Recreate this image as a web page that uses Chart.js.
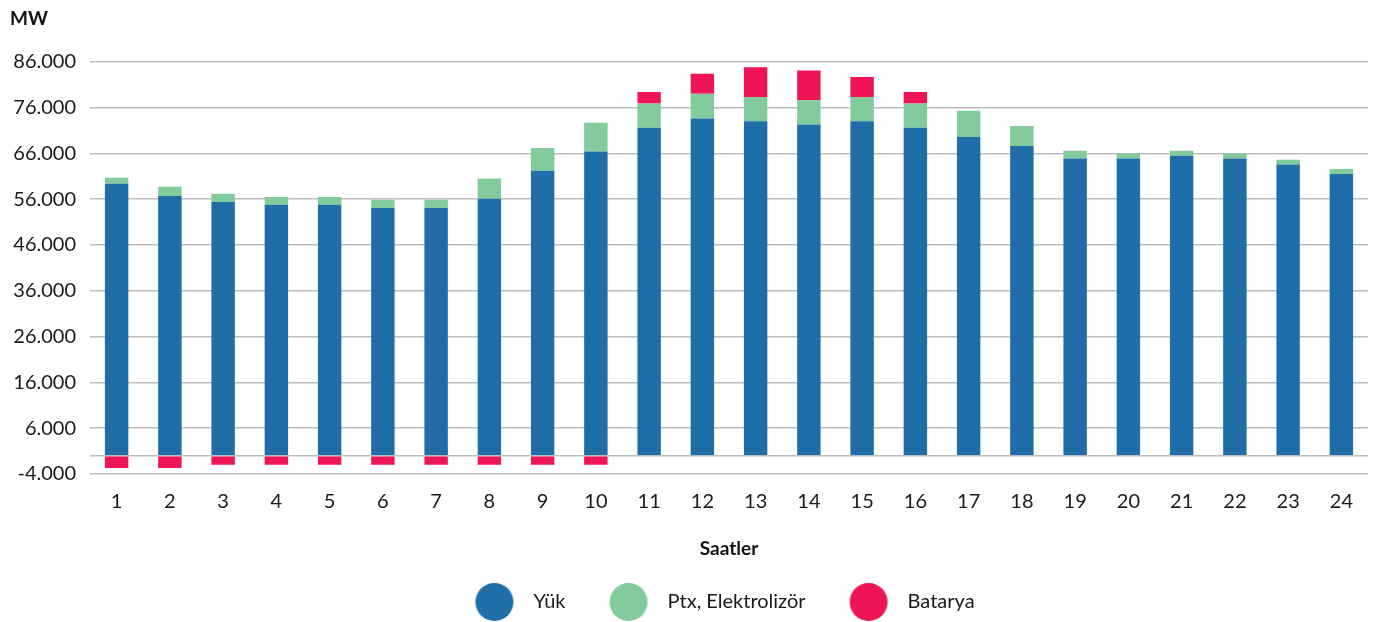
<!DOCTYPE html>
<html lang="tr">
<head>
<meta charset="utf-8">
<title>Saatlik yük</title>
<script src="https://cdn.jsdelivr.net/npm/chart.js@4/dist/chart.umd.min.js"></script>
<style>
  html, body { margin: 0; padding: 0; background: #fff; }
  #wrap { position: relative; width: 1375px; height: 622px; }
</style>
</head>
<body>
<div id="wrap"><canvas id="chart"></canvas></div>
<script>
// Saat başına yük, PtX / elektrolizör ve batarya (MW)
const hours = ['1', '2', '3', '4', '5', '6', '7', '8', '9', '10', '11', '12',
  '13', '14', '15', '16', '17', '18', '19', '20', '21', '22', '23', '24']

const load = [59400, 56700, 55400, 54800, 54800, 54100, 54100, 56100, 62200, 66400, 71600, 73600,
  73000, 72300, 73000, 71600, 69600, 67600, 64900, 64900, 65500, 64900, 63600, 61500]

const ptx = [1300, 2000, 1800, 1700, 1700, 1800, 1800, 4400, 5000, 6300, 5300, 5400,
  5300, 5300, 5300, 5300, 5700, 4400, 1700, 1100, 1100, 1100, 1000, 1100]

const battery = [-2700, -2700, -2000, -2000, -2000, -2000, -2000, -2000, -2000, -2000, 2500, 4400,
  6500, 6500, 4400, 2500, 0, 0, 0, 0, 0, 0, 0, 0]

const yTicks = [-4000, 0, 6000, 16000, 26000, 36000, 46000, 56000, 66000, 76000, 86000]

const colors = {
  load: '#1f6ea7',
  ptx: '#83cb9d',
  battery: '#ee1556',
}

const FONT = 'Lato, "Noto Sans", sans-serif'

// 86.000 / -4.000 style
function fmt(v) {
  const s = String(Math.abs(v)).replace(/\B(?=(\d{3})+(?!\d))/g, '.')
  return v < 0 ? '-' + s : s
}

// big round legend marker; the blank strip on the left is the gap to the previous item
function dot(color) {
  const c = document.createElement('canvas')
  c.width = 82
  c.height = 40
  const ctx = c.getContext('2d')
  ctx.fillStyle = color
  ctx.beginPath()
  ctx.arc(53, 20, 19, 0, Math.PI * 2)
  ctx.fill()
  return c
}

// keep the legend centred under the plot, like the axis title
const legendUnderPlot = {
  id: 'legendUnderPlot',
  afterLayout(chart) {
    chart.legend.left = chart.chartArea.left - 42
    chart.legend.right = chart.chartArea.right
  },
}

const bar = {
  stack: 's',
  categoryPercentage: 1,
  barPercentage: 0.44,
  borderWidth: 0,
}

new Chart(document.getElementById('chart'), {
  type: 'bar',
  data: {
    labels: hours,
    datasets: [
      {...bar, label: 'Yük', data: load, backgroundColor: colors.load},
      {...bar, label: 'Ptx, Elektrolizör', data: ptx, backgroundColor: colors.ptx},
      {...bar, label: 'Batarya', data: battery, backgroundColor: colors.battery},
    ],
  },
  plugins: [legendUnderPlot],
  options: {
    responsive: true,
    maintainAspectRatio: false,
    animation: false,
    layout: {padding: {left: 10, right: 7, top: 0, bottom: 0}},
    scales: {
      x: {
        stacked: true,
        grid: {display: false},
        border: {display: false},
        ticks: {color: '#1a1a1a', font: {family: FONT, size: 20}, padding: 8},
        afterFit: (axis) => {
          axis.height = 108
        },
        title: {
          display: true,
          text: 'Saatler',
          color: '#111',
          font: {family: FONT, size: 19, weight: 'bold'},
          padding: {top: 0, bottom: 22},
        },
      },
      y: {
        stacked: true,
        min: -4000,
        max: 86000,
        border: {display: false},
        grid: {color: '#bdbdbd', lineWidth: 1.5, drawTicks: false},
        afterBuildTicks: (axis) => {
          axis.ticks = yTicks.map((value) => ({value}))
        },
        afterFit: (axis) => {
          axis.width = 80
        },
        ticks: {
          color: '#1a1a1a',
          font: {family: FONT, size: 20},
          padding: 14,
          callback: (v) => (v === 0 ? '' : fmt(v)),
        },
      },
    },
    plugins: {
      tooltip: {enabled: false},
      title: {
        display: true,
        text: 'MW',
        align: 'start',
        color: '#111',
        font: {family: FONT, size: 19, weight: 'bold'},
        padding: {top: 7, bottom: 32},
      },
      legend: {
        position: 'bottom',
        labels: {
          usePointStyle: true,
          pointStyleWidth: 82,
          padding: 10,
          color: '#1a1a1a',
          font: {family: FONT, size: 20},
          generateLabels: (chart) =>
            Chart.defaults.plugins.legend.labels.generateLabels(chart).map((item) => ({
              ...item,
              pointStyle: dot(Object.values(colors)[item.datasetIndex]),
            })),
        },
      },
    },
  },
})
</script>
</body>
</html>
